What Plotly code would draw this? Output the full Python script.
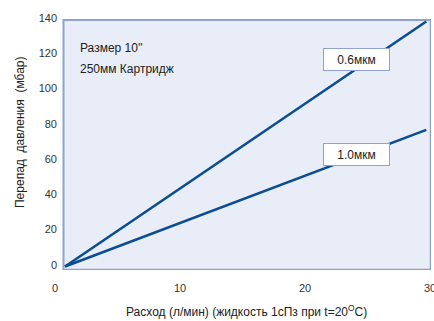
import plotly.graph_objects as go

flow = [0.8, 29.7]
dp_06 = [-1.0, 138.0]
dp_10 = [-1.0, 76.5]
x_ticks = [0, 10, 20, 30]
y_ticks = [0, 20, 40, 60, 80, 100, 120, 140]
series_labels = ["0.6мкм", "1.0мкм"]
label_pos_x = [24.15, 24.1]
label_pos_y = [116.3, 62.3]

FONT = "Liberation Sans, Arial, sans-serif"
LINE = "#0b4d92"
FRAME = "#8ea3d2"
TXT = "#222"

fig = go.Figure()
fig.add_shape(type="rect", xref="x", yref="y", x0=0.68, x1=30.06, y0=-2.8, y1=138.9,
              fillcolor="#e9edf7", line=dict(color=FRAME, width=2), layer="below")
for ys in (dp_06, dp_10):
    fig.add_trace(go.Scatter(x=flow, y=ys, mode="lines", line=dict(color=LINE, width=2.6),
                             showlegend=False, hoverinfo="skip"))
for lab, lx, ly in zip(series_labels, label_pos_x, label_pos_y):
    fig.add_annotation(x=lx, y=ly, xref="x", yref="y", text=lab, showarrow=False,
                       font=dict(family=FONT, size=12, color=TXT),
                       bgcolor="white", bordercolor=FRAME, borderwidth=1,
                       width=61, height=17, borderpad=2)
fig.add_annotation(x=1.85, y=123, xref="x", yref="y", xanchor="left", yanchor="middle",
                   text="Размер 10''", showarrow=False,
                   font=dict(family=FONT, size=12, color=TXT))
fig.add_annotation(x=1.85, y=111, xref="x", yref="y", xanchor="left", yanchor="middle",
                   text="250мм Картридж", showarrow=False,
                   font=dict(family=FONT, size=12, color=TXT))
fig.add_annotation(x=(246 - 55) / 376, y=0, xref="paper", yref="paper", yshift=-41,
                   xanchor="center", yanchor="middle", showarrow=False,
                   text="Расход (л/мин) (жидкость 1сПз при t=20<sup>O</sup>C)",
                   font=dict(family=FONT, size=12, color=TXT))
fig.add_annotation(x=0, y=(270 - 132) / 252, xref="paper", yref="paper", xshift=-35,
                   xanchor="center", yanchor="middle", showarrow=False, textangle=-90,
                   text="Перепад  давления  (мбар)",
                   font=dict(family=FONT, size=12, color=TXT))

fig.update_layout(
    width=434, height=321,
    margin=dict(l=55, r=3, t=18, b=51, autoexpand=False),
    plot_bgcolor="white", paper_bgcolor="white",
    font=dict(family=FONT, size=11, color="#333"),
    xaxis=dict(range=[0, 30.08], tickvals=x_ticks, showgrid=False, zeroline=False,
               showline=False, ticks="", ticklabelstandoff=10, automargin=False,
               ticklabeloverflow="allow",
               tickfont=dict(family=FONT, size=11, color="#333")),
    yaxis=dict(range=[-3, 140], tickvals=y_ticks, showgrid=False, zeroline=False,
               showline=False, ticks="", ticklabelstandoff=-3, automargin=False,
               ticklabeloverflow="allow",
               tickfont=dict(family=FONT, size=11, color="#333")),
)
fig.write_html("out.html", config={"displayModeBar": False},
               post_script="document.body.style.margin='0';document.body.style.padding='0';document.body.style.overflow='hidden';")
